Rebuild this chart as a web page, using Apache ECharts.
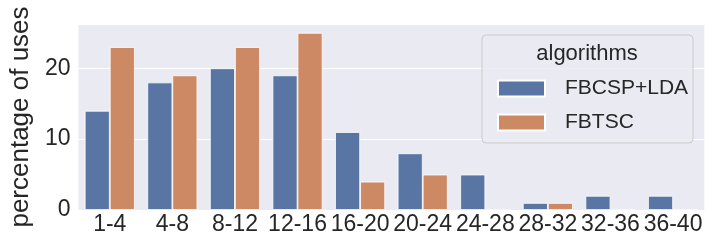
<!DOCTYPE html>
<html>
<head>
<meta charset="utf-8">
<script src="https://cdn.jsdelivr.net/npm/echarts@6/dist/echarts.min.js"></script>
<style>
  html, body { margin: 0; padding: 0; background: #fff; }
  #chart { width: 705px; height: 241px; }
</style>
</head>
<body>
<div id="chart"></div>
<script>
// categories (window sizes) and bar values
const categories = ['1-4', '4-8', '8-12', '12-16', '16-20', '20-24', '24-28', '28-32', '32-36', '36-40'];
const fbcspLda = [14, 18, 20, 19, 11, 8, 5, 1, 2, 2];
const fbtsc = [23, 19, 23, 25, 4, 5, 0, 1, 0, 0];
const yTicks = [0, 10, 20];

const font = "'Liberation Sans', Arial, sans-serif";
const chart = echarts.init(document.getElementById('chart'));

const option = {
  animation: false,
  grid: {
    left: 70,
    right: 0,
    top: 24,
    bottom: 31,
    show: true,
    backgroundColor: '#EAEAF2',
    borderWidth: 0
  },
  xAxis: {
    type: 'category',
    data: categories,
    axisLine: { show: false },
    axisTick: { show: false },
    axisLabel: { color: '#262626', fontSize: 23, fontFamily: font, margin: 3, interval: 0 },
    splitLine: { show: false }
  },
  yAxis: {
    type: 'value',
    min: 0,
    max: 26.25,
    interval: 10,
    name: 'percentage of uses',
    nameLocation: 'middle',
    nameGap: 38,
    nameTextStyle: { color: '#262626', fontSize: 26, fontFamily: font },
    axisLine: { show: false },
    axisTick: { show: false },
    axisLabel: {
      color: '#262626', fontSize: 23, fontFamily: font, margin: 8,
      showMaxLabel: false,
      formatter: v => (yTicks.includes(v) ? String(v) : '')
    },
    splitLine: { lineStyle: { color: '#ffffff', width: 1.2 } }
  },
  legend: {
    orient: 'vertical',
    left: 492,
    top: 73,
    z: 100,
    itemWidth: 47,
    itemHeight: 16,
    itemGap: 13,
    icon: 'rect',
    textStyle: { color: '#262626', fontSize: 21, fontFamily: font, padding: [0, 0, 0, 15] },
    data: ['FBCSP+LDA', 'FBTSC']
  },
  graphic: [
    {
      type: 'rect',
      x: 482,
      y: 35,
      z: 50,
      shape: { width: 211, height: 108, r: 4 },
      style: { fill: 'rgba(234,234,242,0.8)', stroke: '#cccccc', lineWidth: 1 }
    },
    {
      type: 'text',
      x: 587,
      y: 54,
      z: 51,
      style: { text: 'algorithms', fill: '#262626', fontSize: 22, fontFamily: font, align: 'center', verticalAlign: 'middle' }
    }
  ],
  series: [
    {
      name: 'FBCSP+LDA',
      type: 'bar',
      data: fbcspLda,
      barGap: 0,
      barCategoryGap: '20%',
      itemStyle: { color: '#5875A4', borderColor: '#ffffff', borderWidth: 0.8 }
    },
    {
      name: 'FBTSC',
      type: 'bar',
      data: fbtsc,
      barGap: 0,
      barCategoryGap: '20%',
      itemStyle: { color: '#CC8963', borderColor: '#ffffff', borderWidth: 0.8 }
    }
  ]
};

chart.setOption(option);
</script>
</body>
</html>
